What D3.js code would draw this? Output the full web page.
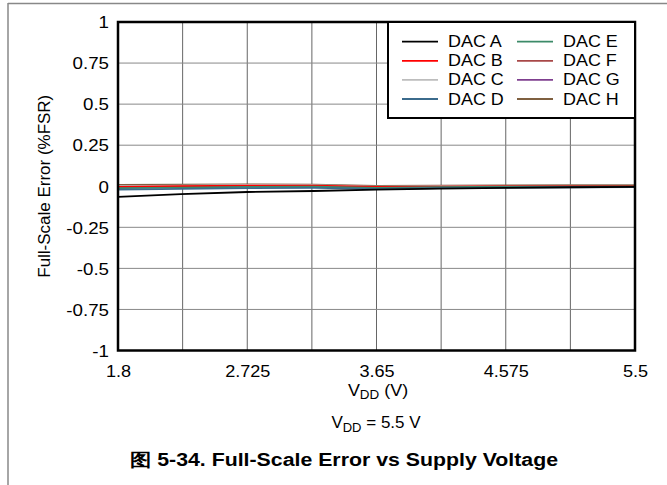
<!DOCTYPE html>
<html><head><meta charset="utf-8">
<script src="https://cdn.jsdelivr.net/npm/d3@7"></script>
<style>body{margin:0;background:#fff}text{font-family:"Liberation Sans",Arial,sans-serif}</style>
</head><body>
<svg id="c" width="667" height="485"></svg>
<script>
const voltages = [1.8, 2.25, 2.725, 3.2, 3.65, 4.1, 4.575, 5.05, 5.5];
const dacA = [-0.065, -0.048, -0.035, -0.029, -0.021, -0.015, -0.010, -0.006, -0.004];
const dacB = [-0.004, 0.000, 0.004, 0.003, -0.004, -0.002, 0.000, 0.001, 0.002];
const dacC = [0.000, 0.004, 0.008, 0.006, -0.002, 0.000, 0.002, 0.003, 0.004];
const dacD = [-0.020, -0.016, -0.012, -0.010, -0.016, -0.012, -0.008, -0.006, -0.005];
const dacE = [-0.012, -0.008, -0.004, -0.003, -0.010, -0.006, -0.003, -0.002, -0.001];
const dacF = [-0.006, -0.002, 0.003, 0.002, -0.006, -0.003, -0.001, 0.000, 0.001];
const dacG = [-0.008, -0.004, 0.000, -0.001, -0.008, -0.005, -0.002, -0.001, 0.000];
const dacH = [0.008, 0.010, 0.012, 0.010, 0.002, 0.004, 0.005, 0.006, 0.007];
const seriesNames = ["DAC A","DAC B","DAC C","DAC D","DAC E","DAC F","DAC G","DAC H"];
const seriesColors = ["#000000","#ff0000","#bdbdbd","#3b6b8c","#3c8a68","#a84848","#7f3f8f","#7f6040"];
const xTicks = [1.8, 2.725, 3.65, 4.575, 5.5];
const xGrid = d3.range(9).map(i => 1.8 + i * 0.4625);
const yTicks = [-1, -0.75, -0.5, -0.25, 0, 0.25, 0.5, 0.75, 1];

const allSeries = [dacA,dacB,dacC,dacD,dacE,dacF,dacG,dacH];
const svg = d3.select("#c");
const L = 118, R = 635, T = 22, B = 350.5;
const x = d3.scaleLinear().domain([1.8, 5.5]).range([L, R]);
const y = d3.scaleLinear().domain([-1, 1]).range([B, T]);

function stretch(sel, s) {
  sel.each(function(){
    const w = this.getComputedTextLength();
    this.setAttribute("textLength", (w*s).toFixed(2));
    this.setAttribute("lengthAdjust", "spacingAndGlyphs");
  });
}

// figure frame
svg.append("line").attr("x1",8).attr("x2",667).attr("y1",3.5).attr("y2",3.5).attr("stroke","#888").attr("stroke-width",1.5);
svg.append("line").attr("x1",8).attr("x2",8).attr("y1",3).attr("y2",485).attr("stroke","#888").attr("stroke-width",1.5);

// grid
const g = svg.append("g");
g.selectAll(".vg").data(xGrid.slice(1,-1)).join("line")
  .attr("x1",d=>x(d)).attr("x2",d=>x(d)).attr("y1",T).attr("y2",B)
  .attr("stroke","#666").attr("stroke-width",1);
g.selectAll(".hg").data(yTicks.slice(1,-1)).join("line")
  .attr("x1",L).attr("x2",R).attr("y1",d=>y(d)).attr("y2",d=>y(d))
  .attr("stroke","#888").attr("stroke-width",1);

// axes labels via d3 axes (no lines)
const ax = svg.append("g").attr("transform",`translate(0,${B})`)
  .call(d3.axisBottom(x).tickValues(xTicks).tickSize(0).tickPadding(15).tickFormat(d=>String(d)));
ax.select(".domain").remove();
ax.attr("font-family",null).attr("font-size",null);
ax.selectAll("text").attr("font-size",16).attr("fill","#000");
stretch(ax.selectAll("text"), 1.13);
const ay = svg.append("g").attr("transform",`translate(${L},0)`)
  .call(d3.axisLeft(y).tickValues(yTicks).tickSize(0).tickPadding(9).tickFormat(d=>String(d)));
ay.select(".domain").remove();
ay.attr("font-family",null).attr("font-size",null);
ay.selectAll("text").attr("font-size",16).attr("fill","#000").attr("dy","0.36em");
stretch(ay.selectAll("text"), 1.17);

// lines
const line = d3.line().x((d,i)=>x(voltages[i])).y(d=>y(d));
const order = [7,5,6,2,1,4,3,0];
order.forEach(k=>{
  svg.append("path").datum(allSeries[k]).attr("d",line).attr("fill","none")
    .attr("stroke",seriesColors[k]).attr("stroke-width",1.8);
});

// plot border
svg.append("rect").attr("x",L).attr("y",T).attr("width",R-L).attr("height",B-T)
  .attr("fill","none").attr("stroke","#000").attr("stroke-width",2.5);

// legend
const lg = svg.append("g");
lg.append("rect").attr("x",388).attr("y",T).attr("width",R-388).attr("height",96)
  .attr("fill","#fff").attr("stroke","#000").attr("stroke-width",2);
seriesNames.forEach((n,i)=>{
  const col = Math.floor(i/4), row = i%4;
  const lx = col ? 517 : 402, ty = 41.7 + row*19.1;
  lg.append("line").attr("x1",lx).attr("x2",lx+36).attr("y1",ty).attr("y2",ty)
    .attr("stroke",seriesColors[i]).attr("stroke-width",1.8);
  const t = lg.append("text").attr("x",lx+46).attr("y",ty+5.5).attr("font-size",16).text(n);
  stretch(t, 1.12);
});

// axis titles
const yt = svg.append("text").attr("transform",`translate(50,${(T+B)/2}) rotate(-90)`).attr("text-anchor","middle")
  .attr("font-size",16).text("Full-Scale Error (%FSR)");
yt.attr("textLength",183).attr("lengthAdjust","spacingAndGlyphs");

const xt = svg.append("text").attr("x",378).attr("y",396).attr("text-anchor","middle").attr("font-size",16)
  .attr("transform","translate(378,0) scale(1.12,1) translate(-378,0)");
xt.append("tspan").text("V");
xt.append("tspan").attr("font-size",12).attr("dy",3).text("DD");
xt.append("tspan").attr("dy",-3).text(" (V)");

const st = svg.append("text").attr("x",376).attr("y",428).attr("text-anchor","middle").attr("font-size",17);
st.append("tspan").text("V");
st.append("tspan").attr("font-size",13).attr("dy",4).text("DD");
st.append("tspan").attr("dy",-4).text(" = 5.5 V");

const cap = svg.append("text").attr("x",344).attr("y",466).attr("text-anchor","middle").attr("font-size",18)
  .attr("font-weight","bold").text("图 5-34. Full-Scale Error vs Supply Voltage");
cap.attr("textLength",428).attr("lengthAdjust","spacingAndGlyphs");
</script>
</body></html>
